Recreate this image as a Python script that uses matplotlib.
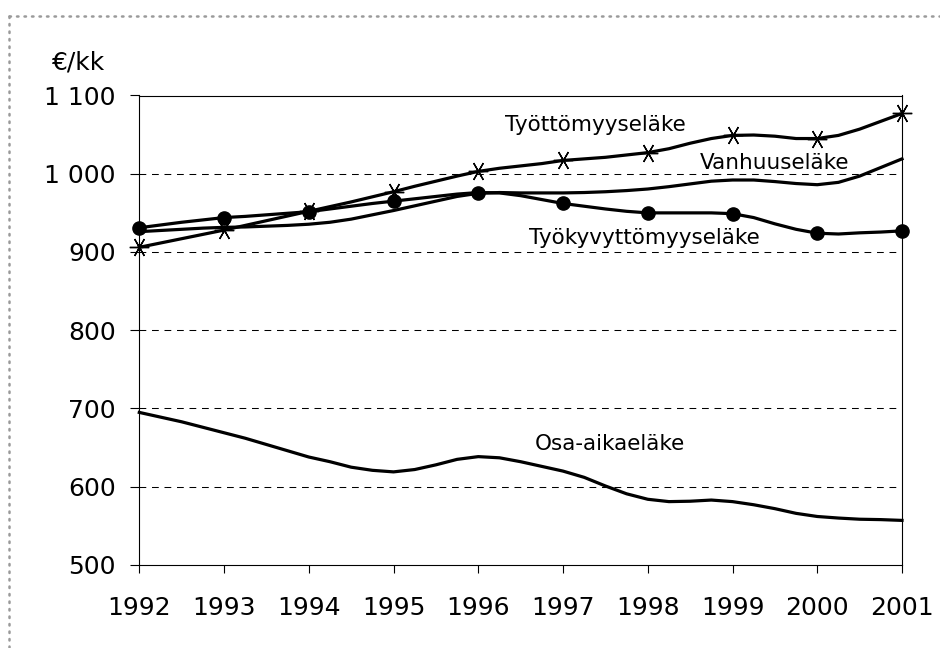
import matplotlib
matplotlib.use("Agg")
import matplotlib.pyplot as plt
from matplotlib.lines import Line2D

# ---- data (quarterly readings, markers on whole years) ----
years = list(range(1992, 2002))
quarter_x = [1992 + q / 4 for q in range(37)]

tyottomyys = [906, 911.5, 917, 922.5, 928, 934, 940, 946, 952, 958, 964, 970.5,
              977, 984, 990.5, 997, 1003, 1007, 1010, 1013, 1017, 1019, 1021, 1024,
              1027, 1032, 1039, 1045, 1049, 1049.5, 1048, 1045, 1045, 1049, 1057, 1067,
              1077]
vanhuus = [926, 927.5, 929, 930.5, 931.5, 932, 933, 934, 935.5, 938, 942, 947.5,
           953, 959, 965, 971, 975, 976, 975.5, 975.5, 975.5, 976, 977, 978.5,
           980.5, 983.5, 987, 990.5, 992, 992, 990, 987.5, 986, 989, 997, 1008,
           1019]
tyokyvyttomyys = [931, 934.5, 938, 941, 944, 945.5, 947.5, 949.5, 951.5, 955, 958.5, 962,
                  965, 968, 971, 974, 976, 975.5, 972, 967, 962, 958.5, 955, 952,
                  950, 950, 950, 950, 949, 944, 936, 929, 924, 923, 924.5, 925.5,
                  927]
osa_aika = [695, 689, 683, 676, 669, 662, 654, 646, 638, 632, 625, 621,
            619, 622, 628, 635, 638.5, 637, 632, 626, 620, 612, 601, 591,
            584, 581, 581.5, 583, 581, 577, 572, 566, 562, 560, 558.5, 558,
            557]

y_ticks = [500, 600, 700, 800, 900, 1000, 1100]
y_tick_labels = ["500", "600", "700", "800", "900", "1 000", "1 100"]
unit_label = "€/kk"
series_labels = ["Työttömyyseläke", "Vanhuuseläke", "Työkyvyttömyyseläke", "Osa-aikaeläke"]

plt.rcParams["font.family"] = ["DejaVu Sans"]

fig = plt.figure(figsize=(9.4, 6.48), dpi=100)
ax = fig.add_axes([139.3 / 940, 1 - 565 / 648, (902 - 139.3) / 940, (565 - 95.5) / 648])

for v in y_ticks[1:-1]:
    ax.axhline(v, color="black", lw=0.75, ls=(0, (6.5, 5.5)), zorder=1)

lw = 2.3
ax.plot(quarter_x, osa_aika, color="black", lw=lw, zorder=3, solid_joinstyle="round",
        clip_on=False)
ax.plot(quarter_x, vanhuus, color="black", lw=lw, zorder=3, solid_joinstyle="round",
        clip_on=False)
ax.plot(quarter_x, tyokyvyttomyys, color="black", lw=lw, zorder=5, marker="o",
        markevery=4, ms=9.5, solid_joinstyle="round", clip_on=False)
ax.plot(quarter_x, tyottomyys, color="black", lw=lw, zorder=5, marker=(6, 2, 90),
        markevery=4, ms=14, mew=1.0, solid_joinstyle="round", clip_on=False)

ax.set_xlim(1992, 2001)
ax.set_ylim(500, 1100)
ax.set_xticks(years)
ax.set_xticklabels([str(y) for y in years])
ax.set_yticks(y_ticks)
ax.set_yticklabels(y_tick_labels)

for s in ax.spines.values():
    s.set_linewidth(0.8)
    s.set_color("black")
    s.set_zorder(4)

ax.tick_params(axis="y", direction="out", length=6.5, width=0.8, labelsize=18, pad=10.5)
ax.tick_params(axis="x", direction="out", length=6, width=0.8, labelsize=18, pad=16)

fs = 15.5
ax.text(1996.32, 1054.8, series_labels[0], fontsize=fs, ha="left", va="baseline")
ax.text(1998.615, 1006.5, series_labels[1], fontsize=fs, ha="left", va="baseline")
ax.text(1996.6, 910.7, series_labels[2], fontsize=fs, ha="left", va="baseline")
ax.text(1996.67, 646.8, series_labels[3], fontsize=fs, ha="left", va="baseline")

fig.text(79 / 940, 1 - 70 / 648, unit_label, fontsize=18, ha="center", va="baseline")

# dotted frame (top and left edges visible)
dot_style = dict(color="#9a9a9a", lw=1.8, ls=(0, (0.6, 2.4)),
                 dash_capstyle="round")
fig.add_artist(Line2D([9 / 940, 1.0], [1 - 15.7 / 648, 1 - 15.7 / 648],
                      transform=fig.transFigure, **dot_style))
fig.add_artist(Line2D([9 / 940, 9 / 940], [1 - 15.7 / 648, 0.0],
                      transform=fig.transFigure, **dot_style))

fig.savefig("out.png", dpi=100, facecolor="white")
